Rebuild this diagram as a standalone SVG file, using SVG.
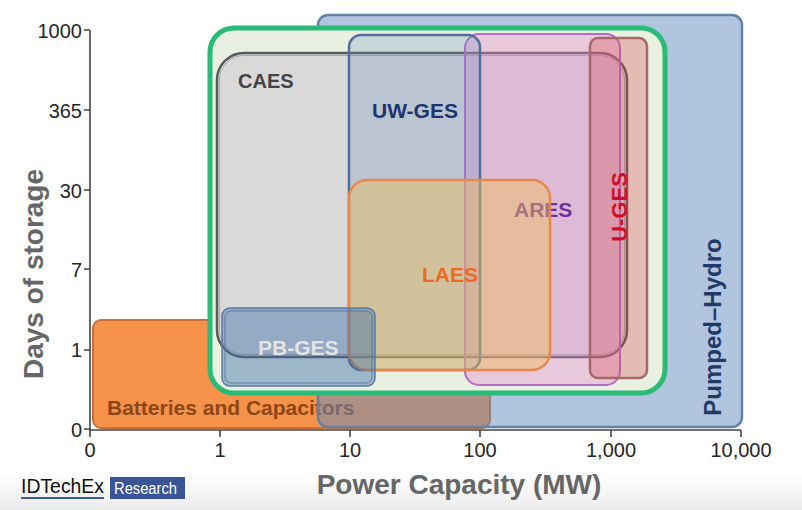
<svg xmlns="http://www.w3.org/2000/svg" width="802" height="510" viewBox="0 0 802 510">
<defs>
<linearGradient id="fade" x1="0" y1="0" x2="0" y2="1"><stop offset="0" stop-color="#ffffff"/><stop offset="1" stop-color="#ebebeb"/></linearGradient>
</defs>
<style>
text{font-family:"Liberation Sans",Arial,sans-serif}
.lbl{font-weight:bold}
.tick{font-size:20px;fill:#262626}
.ax{stroke:#444;stroke-width:1.6;fill:none}
</style>
<rect width="802" height="510" fill="#fff"/>
<rect x="0" y="475" width="802" height="35" fill="url(#fade)"/>

<g id="batteries">
<rect x="93" y="320" width="397" height="108" rx="8" fill="#f7924a" stroke="#c7703c" stroke-width="2"/>
<text x="107" y="415" class="lbl" font-size="21" fill="#8c4718">Batteries and Capacitors</text>
</g>
<g id="pumped-hydro">
<rect x="318" y="15" width="424" height="412" rx="10" fill="rgb(100,140,190)" fill-opacity="0.5" stroke="#6282a8" stroke-width="2.5"/>
<text transform="translate(721,327) rotate(-90)" text-anchor="middle" class="lbl" font-size="24" fill="#1e3a68">Pumped–Hydro</text>
</g>
<g id="ges-envelope">
<rect x="210" y="28" width="455" height="365" rx="24" fill="#eaf0e1" stroke="#2bbb78" stroke-width="5"/>
</g>
<g id="caes">
<rect x="217" y="53" width="410" height="304" rx="27" fill="#d9d9d9" stroke="#5a5a5a" stroke-width="2.5"/>
<rect x="219.5" y="55.5" width="405" height="299" rx="24.5" fill="none" stroke="#a0a0a0" stroke-width="0.8"/>
<text x="238" y="88" class="lbl" font-size="20" fill="#444">CAES</text>
</g>
<g id="ares">
<rect x="465" y="34" width="155" height="351" rx="14" fill="rgb(230,130,210)" fill-opacity="0.35" stroke="#b56cc4" stroke-width="2"/>
<text x="514" y="217" class="lbl" font-size="21" fill="#7030a0">ARES</text>
</g>
<g id="uw-ges">
<rect x="349" y="35" width="131" height="335" rx="12" fill="rgb(100,140,190)" fill-opacity="0.25" stroke="#4e6d9c" stroke-width="2.5"/>
<text x="372" y="118" class="lbl" font-size="21" fill="#1c3570">UW-GES</text>
</g>
<g id="laes">
<rect x="349" y="180" width="201" height="190" rx="18" fill="rgb(240,190,90)" fill-opacity="0.45" stroke="#e8874a" stroke-width="2.5"/>
<text x="422" y="282" class="lbl" font-size="21" fill="#ec6a22">LAES</text>
</g>
<g id="u-ges">
<rect x="590" y="38" width="57" height="340" rx="8" fill="rgb(215,70,75)" fill-opacity="0.3" stroke="#a86868" stroke-width="2.5"/>
<text transform="translate(627,207) rotate(-90)" text-anchor="middle" class="lbl" font-size="22" fill="#d0102a">U-GES</text>
</g>
<g id="pb-ges">
<rect x="222" y="308" width="153" height="78" rx="8" fill="rgb(60,110,170)" fill-opacity="0.44" stroke="#5b7aa5" stroke-width="1.5"/>
<rect x="225" y="311" width="147" height="72" rx="6" fill="none" stroke="#5b7aa5" stroke-width="1"/>
<text x="258" y="355" class="lbl" font-size="21" fill="#e4e4e4">PB-GES</text>
</g>

<g id="connectors"></g>

<g id="axes">
<path class="ax" d="M90 30V430H741"/>
<path class="ax" d="M84 30H90M84 110H90M84 190H90M84 269H90M84 350H90M84 429H90M90 430V437M220 430V437M350 430V437M480 430V437M611 430V437M741 430V437"/>
<g class="tick" text-anchor="end">
<text x="82" y="38">1000</text>
<text x="82" y="118">365</text>
<text x="82" y="198">30</text>
<text x="82" y="277">7</text>
<text x="82" y="357">1</text>
<text x="82" y="437">0</text>
</g>
<g class="tick" text-anchor="middle">
<text x="90" y="457">0</text>
<text x="220" y="457">1</text>
<text x="350" y="457">10</text>
<text x="480" y="457">100</text>
<text x="611" y="457">1,000</text>
<text x="741" y="457">10,000</text>
</g>
<text transform="translate(43,274) rotate(-90)" text-anchor="middle" class="lbl" font-size="28" fill="#666">Days of storage</text>
<text x="459" y="494" text-anchor="middle" class="lbl" font-size="28" fill="#666">Power Capacity (MW)</text>
</g>

<g id="logo">
<text x="21" y="493" font-size="20" textLength="83" lengthAdjust="spacingAndGlyphs" fill="#111">IDTechEx</text>
<line x1="21" y1="498" x2="104" y2="498" stroke="#3a5aa0" stroke-width="1.8"/>
<rect x="110" y="477" width="75" height="22" fill="#3a5596"/>
<text x="114" y="494" font-size="17" textLength="63" lengthAdjust="spacingAndGlyphs" fill="#fff">Research</text>
</g>
</svg>
